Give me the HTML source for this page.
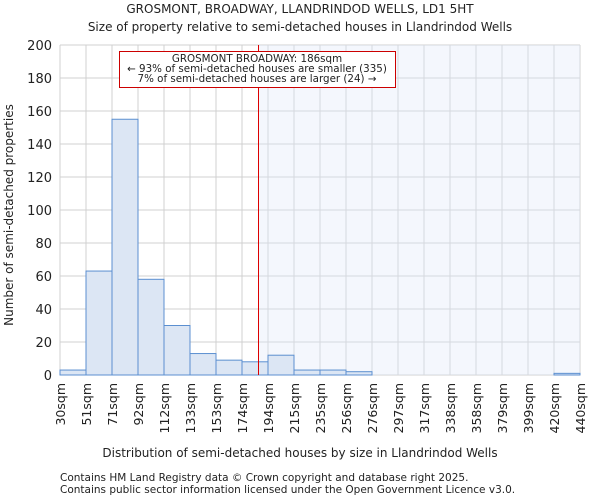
<!DOCTYPE html>
<html><head><meta charset="utf-8"><style>
body{margin:0;background:#fff;font-family:"DejaVu Sans","Liberation Sans",sans-serif;}
svg text{font-family:"DejaVu Sans","Liberation Sans",sans-serif;fill:#222;}
</style></head><body>
<svg id="chart" width="600" height="500">
<text x="300" y="13" text-anchor="middle" font-size="12">GROSMONT, BROADWAY, LLANDRINDOD WELLS, LD1 5HT</text>
<text x="300" y="31" text-anchor="middle" font-size="12">Size of property relative to semi-detached houses in Llandrindod Wells</text>
<g id="plot"></g>
<text x="300" y="457" text-anchor="middle" font-size="12">Distribution of semi-detached houses by size in Llandrindod Wells</text>
<text transform="translate(13,215) rotate(-90)" text-anchor="middle" font-size="12">Number of semi-detached properties</text>
<text x="60" y="481" font-size="10.5">Contains HM Land Registry data © Crown copyright and database right 2025.</text>
<text x="60" y="493" font-size="10.5">Contains public sector information licensed under the Open Government Licence v3.0.</text>
</svg>
<script>
const binLabels=["30sqm","51sqm","71sqm","92sqm","112sqm","133sqm","153sqm","174sqm","194sqm","215sqm","235sqm","256sqm","276sqm","297sqm","317sqm","338sqm","358sqm","379sqm","399sqm","420sqm","440sqm"];
const counts=[3,63,155,58,30,13,9,8,12,3,3,2,0,0,0,0,0,0,0,1];
const yTicks=[0,20,40,60,80,100,120,140,160,180,200];
const markerBinPos=[7.6];
const NS="http://www.w3.org/2000/svg";
const g=document.getElementById("plot");
const L=60,R=580,T=45,B=375,yMax=200;
const bw=(R-L)/counts.length;
const x=i=>L+i*bw;
const y=v=>B-(v/yMax)*(B-T);
function mk(tag,attrs){const e=document.createElementNS(NS,tag);for(const k in attrs)e.setAttribute(k,attrs[k]);g.appendChild(e);return e;}
const mx=Math.round(x(markerBinPos[0]))+0.5;
let e;
for(let i=0;i<=counts.length;i++){e=mk("line",{x1:x(i),x2:x(i),y1:T,y2:B,stroke:"#d0d0d0","stroke-width":1});

}
yTicks.forEach(t=>{e=mk("line",{x1:L,x2:R,y1:y(t),y2:y(t),stroke:"#d0d0d0","stroke-width":1});


e=mk("text",{x:L-8,y:y(t)+5,"text-anchor":"end","font-size":"13"});e.textContent=t;

});
e=mk("rect",{x:mx,y:T,width:R-mx,height:B-T,fill:"#dfe7f8","fill-opacity":"0.35"});


counts.forEach((c,i)=>{if(c<=0)return;e=mk("rect",{x:x(i),y:y(c),width:bw,height:B-y(c),fill:"#dce6f4",stroke:"#5b8fd0","stroke-width":1});

});
binLabels.forEach((l,i)=>{e=mk("text",{transform:`translate(${x(i)+5},${B+8}) rotate(-90)`,"text-anchor":"end","font-size":"12.5"});e.textContent=l;

});
e=mk("line",{x1:mx,x2:mx,y1:T,y2:B,stroke:"#dd0000","stroke-width":1});


e=mk("rect",{x:119.5,y:51.5,width:276,height:36,fill:"#fff",stroke:"#cc0000","stroke-width":1});


["GROSMONT BROADWAY: 186sqm","← 93% of semi-detached houses are smaller (335)","7% of semi-detached houses are larger (24) →"].forEach((s,i)=>{
e=mk("text",{x:257,y:62+i*10,"text-anchor":"middle","font-size":"10.3"});e.textContent=s;

});
</script>
</body></html>
